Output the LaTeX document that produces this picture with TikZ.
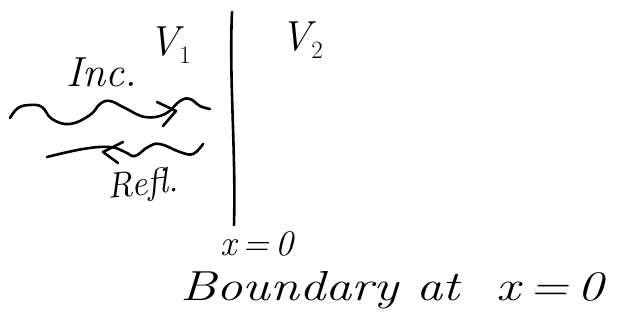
\documentclass[tikz,border=0pt]{standalone}
\usetikzlibrary{arrows.meta}
\begin{document}
\begin{tikzpicture}[x=1pt,y=-1pt,
  ink/.style={line width=2.6pt, line cap=round, line join=round},
  lbl/.style={inner sep=0pt, font=\fontsize{42}{44}\selectfont\itshape},
  mid/.style={inner sep=0pt, font=\fontsize{36}{38}\selectfont\itshape},
  big/.style={inner sep=0pt, font=\fontsize{42}{44}\selectfont\itshape, xscale=1.25}]
\useasboundingbox (0,0) rectangle (620,335);
% boundary
\coordinate (btop) at (232,12);
\coordinate (bbot) at (234,225);
\draw[ink] (btop) .. controls (229,80) and (236,150) .. (bbot);
% labels
\node[lbl] (v1) at (170,45) {V$_1$};
\node[lbl] (v2) at (302,40) {V$_2$};
\node[lbl] (inc) at (102,72) {Inc.};
\node[mid, rotate=6] (refl) at (143,186) {Refl.};
\node[mid] (x0) at (257,244) {x\,=\,0};
\node[big] (bnd) at (392,290) {Boundary at\ \ x\,=\,0};
% incident wave
\coordinate (is) at (10,118);
\coordinate (ie) at (210,109);
\draw[ink] plot[smooth, tension=0.7] coordinates {(is) (18,108) (30,105) (42,107) (52,119) (70,124) (90,115) (100,104) (110,101) (125,108) (145,117) (165,114) (180,101) (190,99) (200,106) (ie)};
\coordinate (ia) at (176,111);
\draw[ink] (157,102) -- (ia) -- (163,126);
% reflected wave
\coordinate (rs) at (47,157);
\coordinate (re) at (203,144);
\draw[ink] plot[smooth, tension=0.7] coordinates {(rs) (83,149) (110,147) (125,152) (135,156) (148,147) (160,144) (180,152) (193,154) (re)};
\coordinate (ra) at (103,152);
\draw[ink] (123,142) -- (ra) -- (118,163);
\end{tikzpicture}
\end{document}
